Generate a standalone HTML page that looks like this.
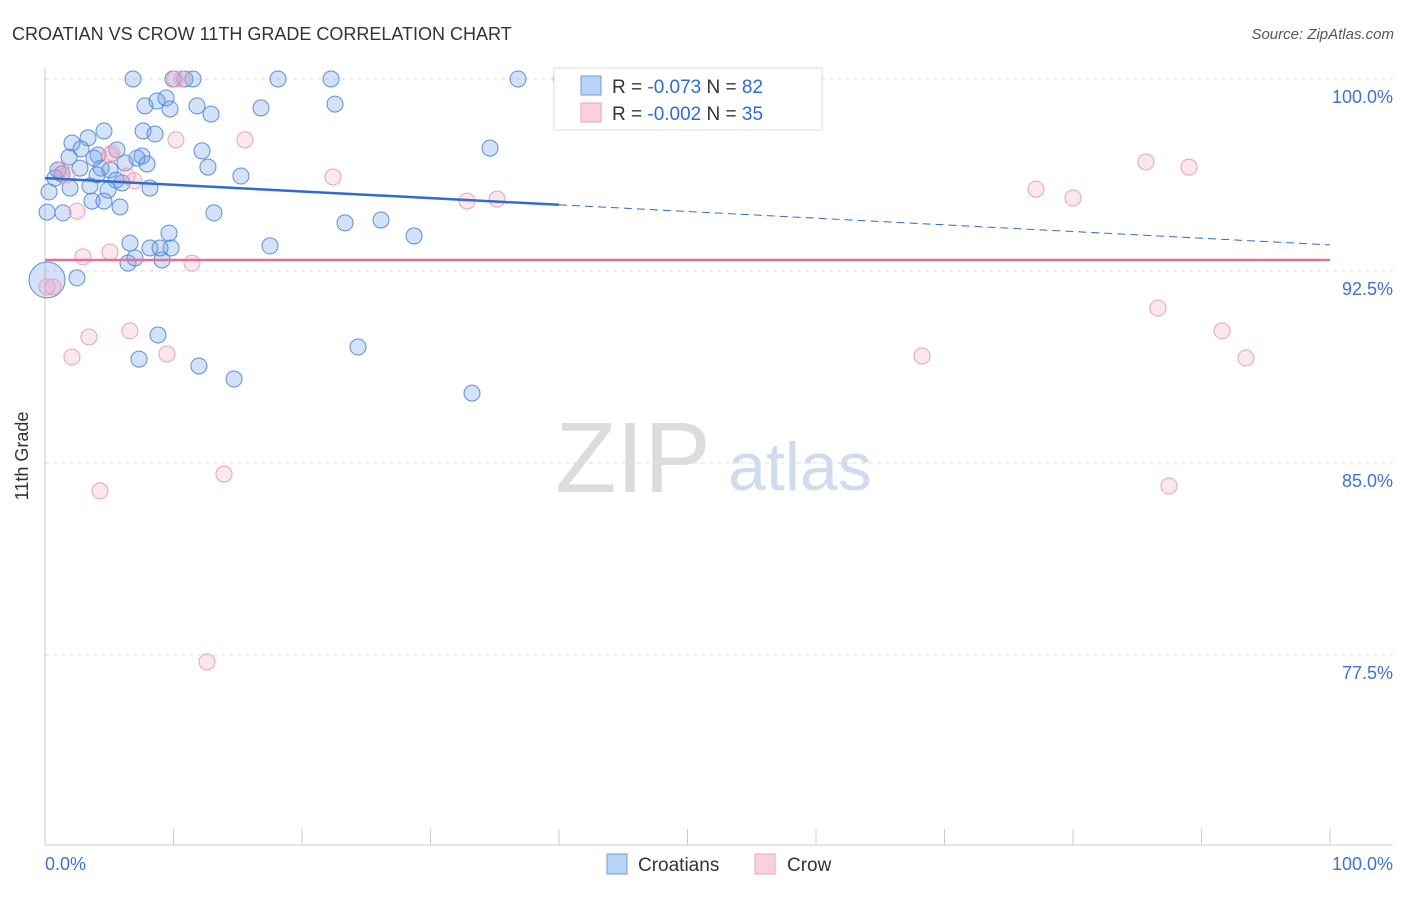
<!DOCTYPE html>
<html><head><meta charset="utf-8"><style>
body{margin:0;background:#fff;font-family:"Liberation Sans",sans-serif;}
svg text{font-family:"Liberation Sans",sans-serif;}
</style></head><body>
<svg width="1406" height="892" xmlns="http://www.w3.org/2000/svg">
<text x="12" y="40" font-size="18" fill="#333">CROATIAN VS CROW 11TH GRADE CORRELATION CHART</text>
<text x="1394" y="39" font-size="15" fill="#555" font-style="italic" text-anchor="end">Source: ZipAtlas.com</text>
<g>
<text x="633" y="492" font-size="100" fill="#dcdcdc" font-family="Liberation Serif,serif" text-anchor="middle">ZIP</text>
<text x="800" y="490" font-size="68" fill="#cfdcf0" text-anchor="middle">atlas</text>
</g>
<g id="grid"></g>
<g id="axes"></g>
<g id="blue"></g>
<g id="pink"></g>
<g id="trend"></g>
<text x="28" y="456" font-size="18" fill="#333" transform="rotate(-90 28 456)" text-anchor="middle">11th Grade</text>
<g>
<rect x="554" y="68" width="268" height="62" fill="#fff" stroke="#ddd"/>
<rect x="581" y="76" width="20" height="19" fill="#b9d3f5" stroke="#6a9de0"/>
<rect x="581" y="103" width="20" height="19" fill="#fbd0dd" stroke="#eda2bb"/>
<text x="612" y="93" font-size="19" fill="#333">R = <tspan fill="#2f6bd0">-0.073</tspan>   N = <tspan fill="#2f6bd0">82</tspan></text>
<text x="612" y="120" font-size="19" fill="#333">R = <tspan fill="#2f6bd0">-0.002</tspan>   N = <tspan fill="#2f6bd0">35</tspan></text>
</g>
<g>
<rect x="607" y="854" width="20" height="20" fill="#b9d3f5" stroke="#6a9de0"/>
<text x="638" y="871" font-size="19" fill="#333">Croatians</text>
<rect x="755" y="854" width="20" height="20" fill="#fbd0dd" stroke="#eda2bb"/>
<text x="787" y="871" font-size="19" fill="#333">Crow</text>
</g>
</svg>
<script>
const yTicks=[100,92.5,85,77.5];
const yTickLabels=["100.0%","92.5%","85.0%","77.5%"];
const xTickLabels=["0.0%","100.0%"];
const blueX=[6.85,9.96,10.89,11.52,18.13,22.26,36.81,7.78,8.72,9.42,9.73,11.83,12.92,16.81,22.57,4.59,7.63,8.56,2.10,3.35,2.80,4.12,5.60,7.55,7.16,7.94,12.22,12.68,34.63,1.87,1.01,0.78,1.32,2.72,3.81,4.36,5.06,4.05,5.53,5.99,6.23,3.50,1.95,4.90,8.17,15.25,0.31,0.16,1.40,3.66,4.59,5.84,13.15,23.35,26.15,28.72,6.61,8.17,9.81,9.65,8.95,17.51,6.46,7.00,9.11,2.49,8.79,7.32,24.36,11.98,14.71,33.23];
const blueY=[100,100,100,100,100,100,100,98.95,99.14,99.26,98.83,98.95,98.63,98.87,99.02,97.97,97.97,97.85,97.5,97.7,97.27,97.03,97.23,96.99,96.91,96.68,97.19,96.56,97.30,96.95,96.45,96.13,96.29,96.52,96.91,96.52,96.45,96.25,96.05,95.94,96.72,95.82,95.74,95.66,95.74,96.21,95.59,94.80,94.77,95.23,95.23,95.0,94.77,94.38,94.49,93.87,93.59,93.40,93.40,93.98,93.40,93.48,92.81,93.01,92.93,92.23,90.0,89.06,89.53,88.79,88.28,87.73];
const pinkX=[10.12,10.66,40.16,56.5,10.19,15.56,5.21,6.38,5.06,22.41,1.25,1.71,6.93,2.49,32.84,35.18,85.68,89.03,77.12,80.0,2.96,5.06,11.44,0.16,0.62,6.61,3.42,2.10,9.49,68.25,86.61,91.6,93.46,4.28,13.93,87.47,12.61];
const pinkY=[100,100,100,100,97.62,97.62,97.11,96.21,97.03,96.17,96.45,96.25,96.02,94.84,95.23,95.31,96.76,96.56,95.70,95.35,93.05,93.24,92.81,91.88,91.88,90.16,89.92,89.14,89.26,89.18,91.05,90.16,89.10,83.91,84.57,84.10,77.23];
const blueTrend=[96.13,93.52];
const pinkTrend=[92.93,92.93];
const X0=45,X1=1330,Y100=79,PX_PER=25.6;
function sx(v){return X0+(X1-X0)*v/100;}
function sy(v){return Y100+(100-v)*PX_PER;}
const NS="http://www.w3.org/2000/svg";
function mk(tag,attrs,parent){const e=document.createElementNS(NS,tag);for(const k in attrs)e.setAttribute(k,attrs[k]);parent.appendChild(e);return e;}
const grid=document.getElementById('grid'),axes=document.getElementById('axes');
yTicks.forEach((t,i)=>{
  const l=mk('line',{x1:45,x2:1393,y1:sy(t),y2:sy(t),stroke:'#ddd','stroke-dasharray':'4,4'},grid);
  
  
  const tx=mk('text',{x:1393,y:sy(t)+24,'font-size':18,fill:'#3b73d3','text-anchor':'end'},axes);
  tx.textContent=yTickLabels[i];
  
  
});
mk('line',{x1:45,x2:45,y1:68,y2:845,stroke:'#ccc'},axes);
mk('line',{x1:45,x2:1393,y1:845,y2:845,stroke:'#ccc'},axes);
for(let i=0;i<=10;i++){
  const t=mk('line',{x1:sx(i*10),x2:sx(i*10),y1:829,y2:845,stroke:'#ccc'},axes);
  
  
}
const xl0=mk('text',{x:45,y:870,'font-size':18,fill:'#3b73d3'},axes);xl0.textContent=xTickLabels[0];


const xl1=mk('text',{x:1393,y:870,'font-size':18,fill:'#3b73d3','text-anchor':'end'},axes);xl1.textContent=xTickLabels[1];


const bg=document.getElementById('blue');
blueX.forEach((x,i)=>{
  const c=mk('circle',{cx:sx(x),cy:sy(blueY[i]),r:8,fill:'rgba(110,160,235,0.3)',stroke:'#5b8fd9','stroke-width':1},bg);
  
  
});
const big=mk('circle',{cx:sx(0.16),cy:sy(92.15),r:18,fill:'rgba(110,160,235,0.3)',stroke:'#5b8fd9'},bg);


const pg=document.getElementById('pink');
pinkX.forEach((x,i)=>{
  const c=mk('circle',{cx:sx(x),cy:sy(pinkY[i]),r:8,fill:'rgba(245,160,190,0.25)',stroke:'#eba0ba','stroke-width':1},pg);
  
  
});
const tg=document.getElementById('trend');
const bAt=v=>blueTrend[0]+(blueTrend[1]-blueTrend[0])*v/100;
const b1=mk('line',{x1:sx(0),y1:sy(bAt(0)),x2:sx(40),y2:sy(bAt(40)),stroke:'#2f6bd0','stroke-width':2.5},tg);


const b2=mk('line',{x1:sx(40),y1:sy(bAt(40)),x2:sx(100),y2:sy(bAt(100)),stroke:'#2f6bd0','stroke-width':1,'stroke-dasharray':'8,5'},tg);


const p1=mk('line',{x1:sx(0),y1:sy(pinkTrend[0]),x2:sx(100),y2:sy(pinkTrend[1]),stroke:'#e0709a','stroke-width':2.5},tg);


</script>
</body></html>
